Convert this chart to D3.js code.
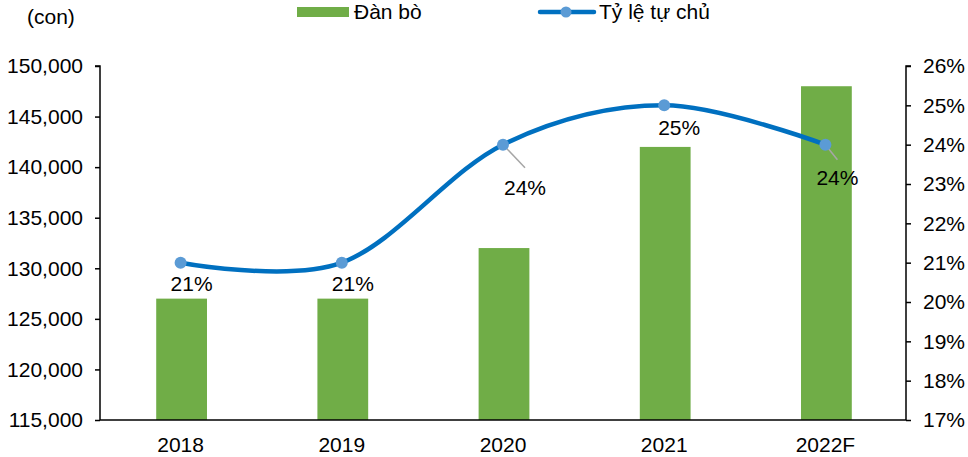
<!DOCTYPE html>
<html>
<head>
<meta charset="utf-8">
<script src="https://cdn.jsdelivr.net/npm/d3@7"></script>
<style>
  body { margin: 0; background: #fff; }
  svg text { font-family: "Liberation Sans", Arial, sans-serif; fill: #000; }
</style>
</head>
<body>
<div id="chart"></div>
<script>
// data
var years = ["2018", "2019", "2020", "2021", "2022F"];
var herd = [127000, 127000, 132000, 142000, 148000];
var selfRate = [0.21, 0.21, 0.24, 0.25, 0.24];
var leftTicks = [115000, 120000, 125000, 130000, 135000, 140000, 145000, 150000];
var rightTicks = [0.17, 0.18, 0.19, 0.20, 0.21, 0.22, 0.23, 0.24, 0.25, 0.26];

var width = 968, height = 457;
var margin = { left: 100, right: 62, top: 66, bottom: 37 };
var w = width - margin.left - margin.right;
var h = height - margin.top - margin.bottom;
var fs = "21px";

var svg = d3.select("#chart").append("svg")
  .attr("width", width).attr("height", height);

var g = svg.append("g")
  .attr("transform", "translate(" + margin.left + "," + margin.top + ")");

var x = d3.scaleBand().domain(years).range([0, w]);
var y = d3.scaleLinear().domain([115000, 150000]).range([h, 0]);
var y2 = d3.scaleLinear().domain([0.17, 0.26]).range([h, 0]);
function cx(i) { return x(years[i]) + x.bandwidth() / 2; }

// bars
var barW = x.bandwidth() * 0.315;
g.selectAll(".bar")
  .data(years)
  .enter()
  .append("rect")
  .attr("class", "bar")
  .attr("x", function (d, i) { return cx(i) - barW / 2 + 1; })
  .attr("y", function (d, i) { return y(herd[i]); })
  .attr("width", barW)
  .attr("height", function (d, i) { return h - y(herd[i]); })
  .style("fill", "#70AD47");

// axes
var fmt = d3.format(",");
var leftAxis = g.append("g")
  .call(d3.axisLeft(y).tickValues(leftTicks).tickFormat(fmt).tickSize(5).tickPadding(12));
var rightAxis = g.append("g")
  .attr("transform", "translate(" + w + ",0)")
  .call(d3.axisRight(y2).tickValues(rightTicks).tickFormat(d3.format(".0%")).tickSize(5).tickPadding(12));
var bottomAxis = g.append("g")
  .attr("transform", "translate(0," + h + ")")
  .call(d3.axisBottom(x).tickSize(0).tickPadding(17));

[leftAxis, rightAxis, bottomAxis].forEach(function (a) {
  a.selectAll("path").attr("stroke", "#000").attr("stroke-width", 1.5);
  a.selectAll("line").attr("stroke", "#000").attr("stroke-width", 1.5);
  a.selectAll("text").style("font-size", fs).attr("fill", "#000")
    .style("font-family", "'Liberation Sans', Arial, sans-serif");
});
bottomAxis.select(".domain").attr("d", "M0,0H" + w);
leftAxis.select(".domain").attr("d", "M-5,0H0V" + h);
rightAxis.select(".domain").attr("d", "M5,0H0V" + h);

// smoothed line
var line = d3.line()
  .x(function (d, i) { return cx(i); })
  .y(function (d) { return y2(d); })
  .curve(d3.curveCardinal.tension(0));

g.append("path")
  .datum(selfRate)
  .attr("d", line)
  .attr("fill", "none")
  .attr("stroke", "#0070C0")
  .attr("stroke-width", 4.5);

// data labels (offsets from point)
var labelOff = [[11, 28], [11, 28], [22, 50], [15, 30], [12, 40]];
var leaders = [
  { i: 2, dx: 22, dy: 23 },
  { i: 4, dx: 12, dy: 15 }
];

g.selectAll(".leader")
  .data(leaders)
  .enter()
  .append("line")
  .attr("x1", function (d) { return cx(d.i); })
  .attr("y1", function (d) { return y2(selfRate[d.i]); })
  .attr("x2", function (d) { return cx(d.i) + d.dx; })
  .attr("y2", function (d) { return y2(selfRate[d.i]) + d.dy; })
  .attr("stroke", "#A6A6A6")
  .attr("stroke-width", 1.5);

g.selectAll(".dot")
  .data(selfRate)
  .enter()
  .append("circle")
  .attr("cx", function (d, i) { return cx(i); })
  .attr("cy", function (d) { return y2(d); })
  .attr("r", 6)
  .style("fill", "#5B9BD5");

g.selectAll(".lbl")
  .data(selfRate)
  .enter()
  .append("text")
  .attr("x", function (d, i) { return cx(i) + labelOff[i][0]; })
  .attr("y", function (d, i) { return y2(d) + labelOff[i][1]; })
  .attr("text-anchor", "middle")
  .style("font-size", fs)
  .text(function (d) { return Math.round(d * 100) + "%"; });

// unit label
svg.append("text").attr("x", 27).attr("y", 24).style("font-size", fs).text("(con)");

// legend
svg.append("rect").attr("x", 297).attr("y", 7).attr("width", 52).attr("height", 10).style("fill", "#70AD47");
svg.append("text").attr("x", 354).attr("y", 19).style("font-size", fs).text("Đàn bò");
svg.append("line").attr("x1", 540).attr("x2", 594).attr("y1", 12).attr("y2", 12)
  .attr("stroke", "#0070C0").attr("stroke-width", 4.5).attr("stroke-linecap", "round");
svg.append("circle").attr("cx", 566).attr("cy", 12).attr("r", 5.5).style("fill", "#5B9BD5");
svg.append("text").attr("x", 599).attr("y", 19).style("font-size", fs).text("Tỷ lệ tự chủ");
</script>
</body>
</html>
